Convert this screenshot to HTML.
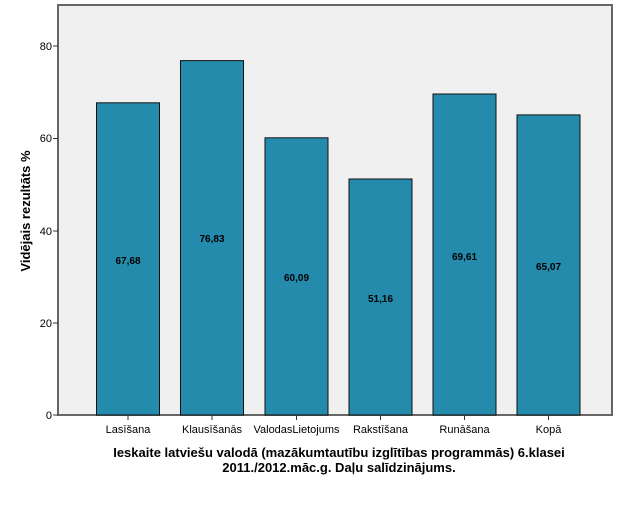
<!DOCTYPE html>
<html><head><style>body{margin:0;background:#fff}</style></head><body>
<svg width="625" height="500" xmlns="http://www.w3.org/2000/svg" font-family="Liberation Sans, Arial, sans-serif">
<rect x="58" y="5" width="554" height="410" fill="#f0f0f0" stroke="#666" stroke-width="2"/>
<g stroke="#333" stroke-width="1">
<line x1="53" y1="415" x2="58" y2="415"/><line x1="53" y1="323" x2="58" y2="323"/><line x1="53" y1="231" x2="58" y2="231"/><line x1="53" y1="138.5" x2="58" y2="138.5"/><line x1="53" y1="46" x2="58" y2="46"/>
</g>
<g font-size="11" text-anchor="end" fill="#000">
<text x="52" y="419">0</text><text x="52" y="327">20</text><text x="52" y="235">40</text><text x="52" y="142">60</text><text x="52" y="50">80</text>
</g>
<g fill="#248bad" stroke="#111" stroke-width="1">
<rect x="96.5" y="102.8" width="63" height="312.2"/>
<rect x="180.5" y="60.6" width="63" height="354.4"/>
<rect x="265" y="137.8" width="63" height="277.2"/>
<rect x="349" y="179" width="63" height="236"/>
<rect x="433" y="94" width="63" height="321"/>
<rect x="517" y="114.9" width="63" height="300.1"/>
</g>
<g stroke="#333"><line x1="128" y1="415" x2="128" y2="420"/><line x1="212" y1="415" x2="212" y2="420"/><line x1="296.5" y1="415" x2="296.5" y2="420"/><line x1="380.5" y1="415" x2="380.5" y2="420"/><line x1="464.5" y1="415" x2="464.5" y2="420"/><line x1="548.5" y1="415" x2="548.5" y2="420"/></g>
<g font-size="10" font-weight="bold" text-anchor="middle" fill="#000">
<text x="128" y="264">67,68</text><text x="212" y="242">76,83</text><text x="296.5" y="281">60,09</text><text x="380.5" y="302">51,16</text><text x="464.5" y="260">69,61</text><text x="548.5" y="270">65,07</text>
</g>
<g font-size="11" text-anchor="middle" fill="#000">
<text x="128" y="433">Lasīšana</text><text x="212" y="433">Klausīšanās</text><text x="296.5" y="433">ValodasLietojums</text><text x="380.5" y="433">Rakstīšana</text><text x="464.5" y="433">Runāšana</text><text x="548.5" y="433">Kopā</text>
</g>
<text x="339" y="457" font-size="13" font-weight="bold" text-anchor="middle">Ieskaite latviešu valodā (mazākumtautību izglītības programmās) 6.klasei</text>
<text x="339" y="472" font-size="13" font-weight="bold" text-anchor="middle">2011./2012.māc.g. Daļu salīdzinājums.</text>
<text transform="translate(30,211) rotate(-90)" font-size="13" font-weight="bold" text-anchor="middle">Vidējais rezultāts %</text>
</svg>
</body></html>
